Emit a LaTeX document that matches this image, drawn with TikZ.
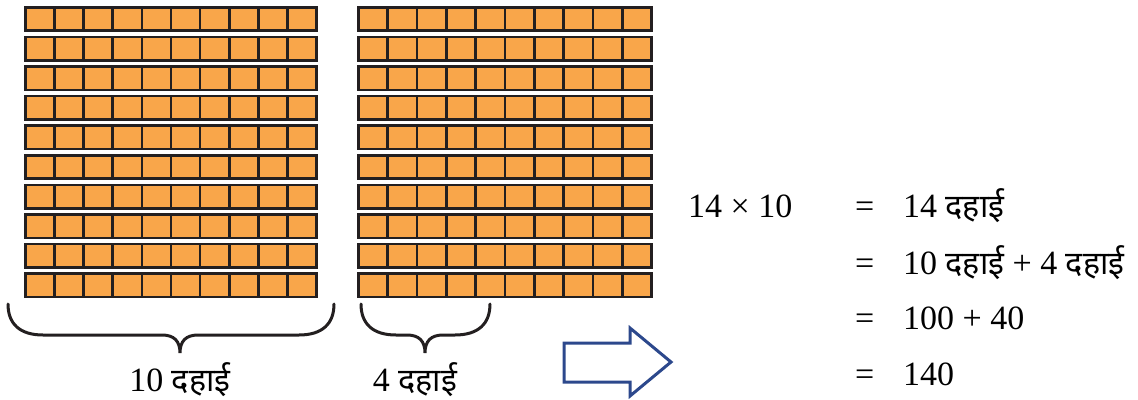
\documentclass[tikz,border=0pt]{standalone}
\usepackage{fontspec}
\setmainfont{Liberation Serif}
\newfontfamily\hindi[Script=Devanagari,Scale=0.95]{Noto Sans}
\usepackage{xcolor}
\usetikzlibrary{positioning}
\definecolor{tenfill}{RGB}{249,166,74}
\definecolor{tenline}{RGB}{35,31,32}
\definecolor{arrowblue}{RGB}{44,72,140}
\tikzset{
cell/.style={
draw=tenline,
fill=tenfill,
line width=2.6pt
},
curly/.style={
draw=tenline,
line width=3pt,
line cap=round
},
txt/.style={
inner sep=0pt,
anchor=base west,
font=\fontsize{34}{40}\selectfont
},
bigarrow/.style={
draw=arrowblue,
line width=3pt,
line join=miter
}
}
% left end, tip, right end, top
\newcommand{\dahaibrace}[4]{%
\draw[curly] (#1,#4) .. controls (#1,#4+20) and (#1+12,#4+31) .. (#1+35,#4+31)
-- (#2-18,#4+31) .. controls (#2-6,#4+31) and (#2,#4+37) .. (#2,#4+49)
.. controls (#2,#4+37) and (#2+6,#4+31) .. (#2+18,#4+31)
-- (#3-35,#4+31) .. controls (#3-12,#4+31) and (#3,#4+20) .. (#3,#4);}
\begin{document}
\begin{tikzpicture}[x=1pt,y=-1pt]
\useasboundingbox (0,0) rectangle (1138,399);

% ten rows of ten in each block
\foreach \bx/\w in {25.3/29.14,358.3/29.34}
\foreach \r in {0,...,9}
\foreach \c in {0,...,9}
\draw[cell] (\bx+\c*\w,7.3+\r*29.6) rectangle ++(\w,23.4);

\dahaibrace{8}{180}{334}{304}
\dahaibrace{361}{425}{490}{304}

\node[txt,anchor=base] (tens) at (180,391) {10 {\hindi दहाई}};
\node[txt,anchor=base] (fours) at (415,391) {4 {\hindi दहाई}};

\draw[bigarrow] (564,343) -- (630,343) -- (630,328) -- (671,362)
-- (630,396) -- (630,382) -- (564,382) -- cycle;

\node[txt] (lhs) at (688,217) {14 × 10};
\node[txt] (eqa) at (855,217) {=};
\node[txt] (rhsa) at (903,217) {14 {\hindi दहाई}};
\node[txt] (eqb) at (855,274) {=};
\node[txt] (rhsb) at (903,274) {10 {\hindi दहाई} + 4 {\hindi दहाई}};
\node[txt] (eqc) at (855,329) {=};
\node[txt] (rhsc) at (903,329) {100 + 40};
\node[txt] (eqd) at (855,385) {=};
\node[txt] (rhsd) at (903,385) {140};

\end{tikzpicture}
\end{document}
